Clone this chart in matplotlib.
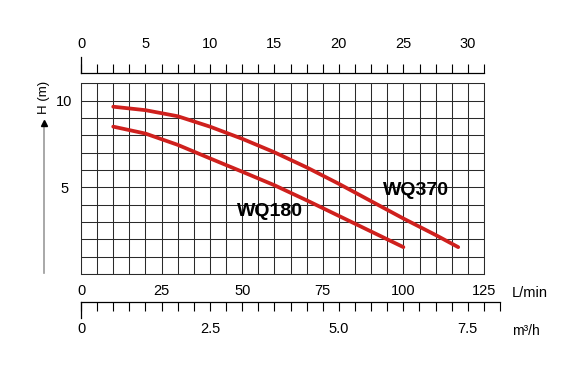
import numpy as np
import matplotlib as mpl
mpl.use('Agg')
import matplotlib.pyplot as plt
from matplotlib.ticker import MultipleLocator, FixedLocator, FuncFormatter
from matplotlib.lines import Line2D

plt.rcParams['font.family'] = 'sans-serif'
plt.rcParams['font.sans-serif'] = ['Liberation Sans', 'DejaVu Sans']
plt.rcParams['font.size'] = 10

# pump curves, flow in L/min and head in m
flow_wq370 = [10, 20, 30, 40, 50, 60, 70, 80, 90, 100, 110, 117]
head_wq370 = [9.65, 9.45, 9.1, 8.5, 7.8, 7.02, 6.15, 5.2, 4.2, 3.2, 2.25, 1.55]
flow_wq180 = [10, 20, 30, 40, 50, 60, 70, 80, 90, 100]
head_wq180 = [8.5, 8.1, 7.45, 6.67, 5.9, 5.12, 4.25, 3.35, 2.45, 1.55]

# scale labels
top_labels = [0, 5, 10, 15, 20, 25, 30]
lmin_labels = [0, 25, 50, 75, 100, 125]
m3h_labels = [0, 2.5, 5.0, 7.5]
head_labels = [5, 10]

W, H = 562, 369
RED = '#cf201d'
FS = 10.5


def fx(px):
    return px / W


def fy(py):
    return 1 - py / H


fig = plt.figure(figsize=(W / 100, H / 100), dpi=100)
fig.patch.set_facecolor('white')

# main grid
ax = fig.add_axes([fx(81), fy(274), 403 / W, 190.7 / H])
ax.set_xlim(0, 125)
ax.set_ylim(0, 11)
ax.xaxis.set_major_locator(MultipleLocator(5))
ax.yaxis.set_major_locator(MultipleLocator(1))
ax.grid(True, color='#2a2a2a', linewidth=0.75, linestyle='-')
ax.set_axisbelow(True)
ax.tick_params(axis='both', length=0)
ax.set_xticklabels([])
ax.yaxis.set_major_formatter(FuncFormatter(
    lambda v, p: f'{int(v)}' if int(round(v)) in head_labels else ''))
for lbl in ax.get_yticklabels():
    lbl.set_horizontalalignment('center')
ax.tick_params(axis='y', pad=12, labelsize=FS)
for s in ax.spines.values():
    s.set_color('#2a2a2a')
    s.set_linewidth(0.75)

ax.plot(flow_wq370, head_wq370, color=RED, linewidth=2.7,
        solid_capstyle='round', solid_joinstyle='round')
ax.plot(flow_wq180, head_wq180, color=RED, linewidth=2.7,
        solid_capstyle='round', solid_joinstyle='round')
ax.text(104, 4.8, 'WQ370', fontsize=14, fontweight='bold',
        ha='center', va='center')
ax.text(58.5, 3.6, 'WQ180', fontsize=14, fontweight='bold',
        ha='center', va='center')

# top scale
ax_top = fig.add_axes([fx(81), fy(73), 403 / W, 16.5 / H])
ax_top.set_xlim(0, 31.25)
ax_top.set_ylim(0, 1)
ax_top.set_yticks([])
ax_top.patch.set_alpha(0)
for k in ['top', 'right']:
    ax_top.spines[k].set_visible(False)
for k in ['bottom', 'left']:
    ax_top.spines[k].set_linewidth(0.9)
ax_top.xaxis.set_major_locator(FixedLocator(top_labels))
ax_top.xaxis.set_minor_locator(MultipleLocator(1.25))
ax_top.tick_params(axis='x', which='both', direction='in', length=6.5, width=0.8,
                   bottom=True, top=False, labelbottom=False, labeltop=True,
                   pad=4, labelsize=FS)

# bottom scales (shared line)
ax_bot = fig.add_axes([fx(81), fy(318), 419 / W, 16.3 / H])
ax_bot.set_xlim(0, 130)
ax_bot.set_ylim(0, 1)
ax_bot.set_yticks([])
ax_bot.patch.set_alpha(0)
for k in ['bottom', 'right']:
    ax_bot.spines[k].set_visible(False)
for k in ['top', 'left']:
    ax_bot.spines[k].set_linewidth(0.9)
ax_bot.xaxis.set_major_locator(FixedLocator(lmin_labels))
ax_bot.xaxis.set_minor_locator(MultipleLocator(5))
ax_bot.tick_params(axis='x', which='both', direction='in', length=6.5, width=0.8,
                   bottom=False, top=True, labelbottom=False, labeltop=True,
                   pad=3, labelsize=FS)

ax_m3 = fig.add_axes([fx(81), fy(318), 419 / W, 16.3 / H])
ax_m3.set_xlim(0, 8.125)
ax_m3.set_yticks([])
ax_m3.patch.set_alpha(0)
for s in ax_m3.spines.values():
    s.set_visible(False)
ax_m3.set_xticks(m3h_labels)
ax_m3.set_xticklabels(['0', '2.5', '5.0', '7.5'])
ax_m3.tick_params(axis='x', length=0, pad=3, labelsize=FS)

fig.text(fx(512), fy(293), 'L/min', fontsize=FS, va='center', ha='left')
fig.text(fx(512), fy(331), 'm³/h', fontsize=10, va='center', ha='left')

# head axis arrow and label
fig.add_artist(Line2D([fx(43.5), fx(43.5)], [fy(126), fy(273)],
                      color='#9a9a9a', linewidth=1.2))
fig.add_artist(Line2D([fx(43.5)], [fy(123)], marker='^', markersize=5,
                      color='black', linestyle='none'))
fig.text(fx(44), fy(97), 'H (m)', rotation=90, fontsize=9.5,
         ha='center', va='center')

fig.savefig('out.png', dpi=100, facecolor='white')
